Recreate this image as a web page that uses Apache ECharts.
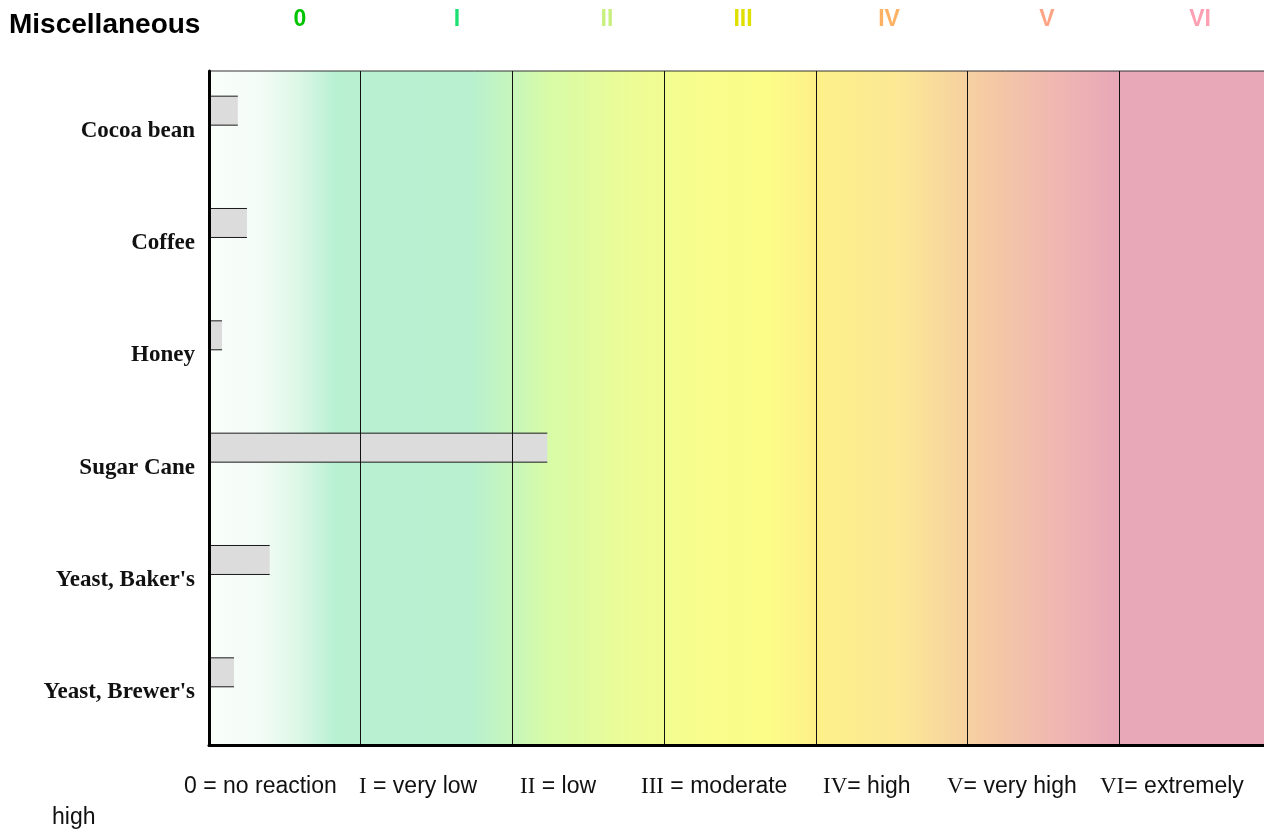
<!DOCTYPE html>
<html>
<head>
<meta charset="utf-8">
<title>Miscellaneous</title>
<script src="https://cdn.jsdelivr.net/npm/echarts@6/dist/echarts.min.js"></script>
<style>
    html, body { margin: 0; padding: 0; background: #fff; overflow: hidden; }
    /* the plot runs a few pixels past the right edge of the window, as in the original */
    #chartMisc { width: 1272px; height: 832px; }
</style>
</head>
<body>
<div id="chartMisc"></div>
<script>
// data
var categories = ['Cocoa bean', 'Coffee', 'Honey', 'Sugar Cane', "Yeast, Baker's", "Yeast, Brewer's"];
var values = [0.19, 0.25, 0.086, 2.23, 0.40, 0.165];
var classLabels = ['0', 'I', 'II', 'III', 'IV', 'V', 'VI'];
var classColors = ['#00c400', '#1ee072', '#c8f07e', '#e0e000', '#ffb264', '#ffa484', '#ffa0b2'];
var legendNumerals = ['0', 'I', 'II', 'III', 'IV', 'V', 'VI'];
var legendTexts = [' = no reaction', ' = very low', ' = low', ' = moderate', '= high', '= very high', '= extremely'];

// layout (pixels)
var headerX = [300, 457, 607, 743, 889, 1047, 1200];
var legendX = [184, 359, 520, 641, 823, 947, 1100];

var chartMisc = {
    init: function () {
        var myChart = echarts.init(document.getElementById('chartMisc'));
        myChart.setOption(this.option(), true);
    },

    renderBar: function (params, api) {
        var end = api.coord([api.value(0), api.value(1)]);
        var start = api.coord([0, api.value(1)]);
        var band = api.size([0, 1])[1];
        var bottom = end[1] - band * 0.018;
        var top = bottom - band * 0.258;
        return {
            type: 'group',
            children: [{
                type: 'rect',
                shape: { x: start[0], y: top, width: end[0] - start[0], height: bottom - top },
                style: { fill: '#dcdcdc' }
            }, {
                type: 'line',
                shape: { x1: start[0], y1: top, x2: end[0], y2: top },
                style: { stroke: '#1a1a1a', lineWidth: 1 }
            }, {
                type: 'line',
                shape: { x1: start[0], y1: bottom, x2: end[0], y2: bottom },
                style: { stroke: '#1a1a1a', lineWidth: 1 }
            }]
        };
    },

    graphics: function () {
        var items = [{
            type: 'text',
            x: 9,
            y: 25,
            style: {
                text: 'Miscellaneous',
                font: 'bold 28px "Liberation Sans", Arial, sans-serif',
                fill: '#000',
                verticalAlign: 'middle'
            }
        }];
        classLabels.forEach(function (label, i) {
            items.push({
                type: 'text',
                x: headerX[i],
                y: 20,
                style: {
                    text: label,
                    font: 'bold 23px "Liberation Sans", Arial, sans-serif',
                    fill: classColors[i],
                    align: 'center',
                    verticalAlign: 'middle'
                }
            });
        });
        legendTexts.forEach(function (txt, i) {
            items.push({
                type: 'text',
                x: legendX[i],
                y: 787,
                style: {
                    text: '{n|' + legendNumerals[i] + '}{t|' + txt + '}',
                    verticalAlign: 'middle',
                    rich: {
                        n: {
                            fontFamily: i === 0 ? '"Liberation Sans", Arial, sans-serif' : '"Liberation Serif", "Times New Roman", serif',
                            fontSize: 23,
                            fill: '#111'
                        },
                        t: {
                            fontFamily: '"Liberation Sans", Arial, sans-serif',
                            fontSize: 23,
                            fill: '#111'
                        }
                    }
                }
            });
        });
        items.push({
            type: 'text',
            x: 52,
            y: 818,
            style: {
                text: 'high',
                font: '23px "Liberation Sans", Arial, sans-serif',
                fill: '#111',
                verticalAlign: 'middle'
            }
        });
        return items;
    },

    option: function () {
        return {
            animation: false,
            grid: {
                top: 71,
                left: 209,
                right: 1,
                bottom: 87,
                show: true,
                borderColor: '#333',
                borderWidth: 1,
                backgroundColor: new echarts.graphic.LinearGradient(0, 0, 1, 0, [
                    { offset: 0, color: '#f9fefb' },
                    { offset: 0.048, color: '#f4fcf6' },
                    { offset: 0.086, color: '#dcf7e6' },
                    { offset: 0.119, color: '#b8f0d2' },
                    { offset: 0.246, color: '#b8f0d0' },
                    { offset: 0.285, color: '#c6f6bc' },
                    { offset: 0.316, color: '#d6fba8' },
                    { offset: 0.387, color: '#eafc98' },
                    { offset: 0.462, color: '#f8fd8c' },
                    { offset: 0.528, color: '#fcfc88' },
                    { offset: 0.571, color: '#fdf088' },
                    { offset: 0.651, color: '#fce896' },
                    { offset: 0.714, color: '#f6d0a0' },
                    { offset: 0.792, color: '#f0b8b0' },
                    { offset: 0.856, color: '#e8a8b8' },
                    { offset: 1, color: '#e8a8b8' }
                ])
            },
            xAxis: {
                type: 'value',
                min: 0,
                max: 7,
                interval: 1,
                z: 4,
                axisLabel: { show: false },
                axisTick: { show: false },
                axisLine: {
                    show: true,
                    lineStyle: { color: '#000', width: 3 }
                },
                splitLine: {
                    show: true,
                    lineStyle: { color: '#111', width: 1 }
                }
            },
            yAxis: {
                type: 'category',
                data: categories,
                inverse: true,
                z: 4,
                axisTick: { show: false },
                axisLabel: {
                    margin: 14,
                    formatter: function (v) { return '{a|' + v + '}'; },
                    rich: {
                        a: {
                            padding: [7, 0, 0, 0],
                            color: '#111',
                            fontFamily: '"Liberation Serif", "Times New Roman", serif',
                            fontWeight: 'bold',
                            fontSize: 23
                        }
                    }
                },
                axisLine: {
                    lineStyle: { color: '#000', width: 3 }
                },
                splitLine: { show: false }
            },
            graphic: this.graphics(),
            series: [{
                name: 'Reaction',
                type: 'custom',
                renderItem: this.renderBar,
                encode: { x: 0, y: 1 },
                data: categories.map(function (c, i) { return [values[i], i]; }),
                z: 2
            }]
        };
    }
};

chartMisc.init();
</script>
</body>
</html>
